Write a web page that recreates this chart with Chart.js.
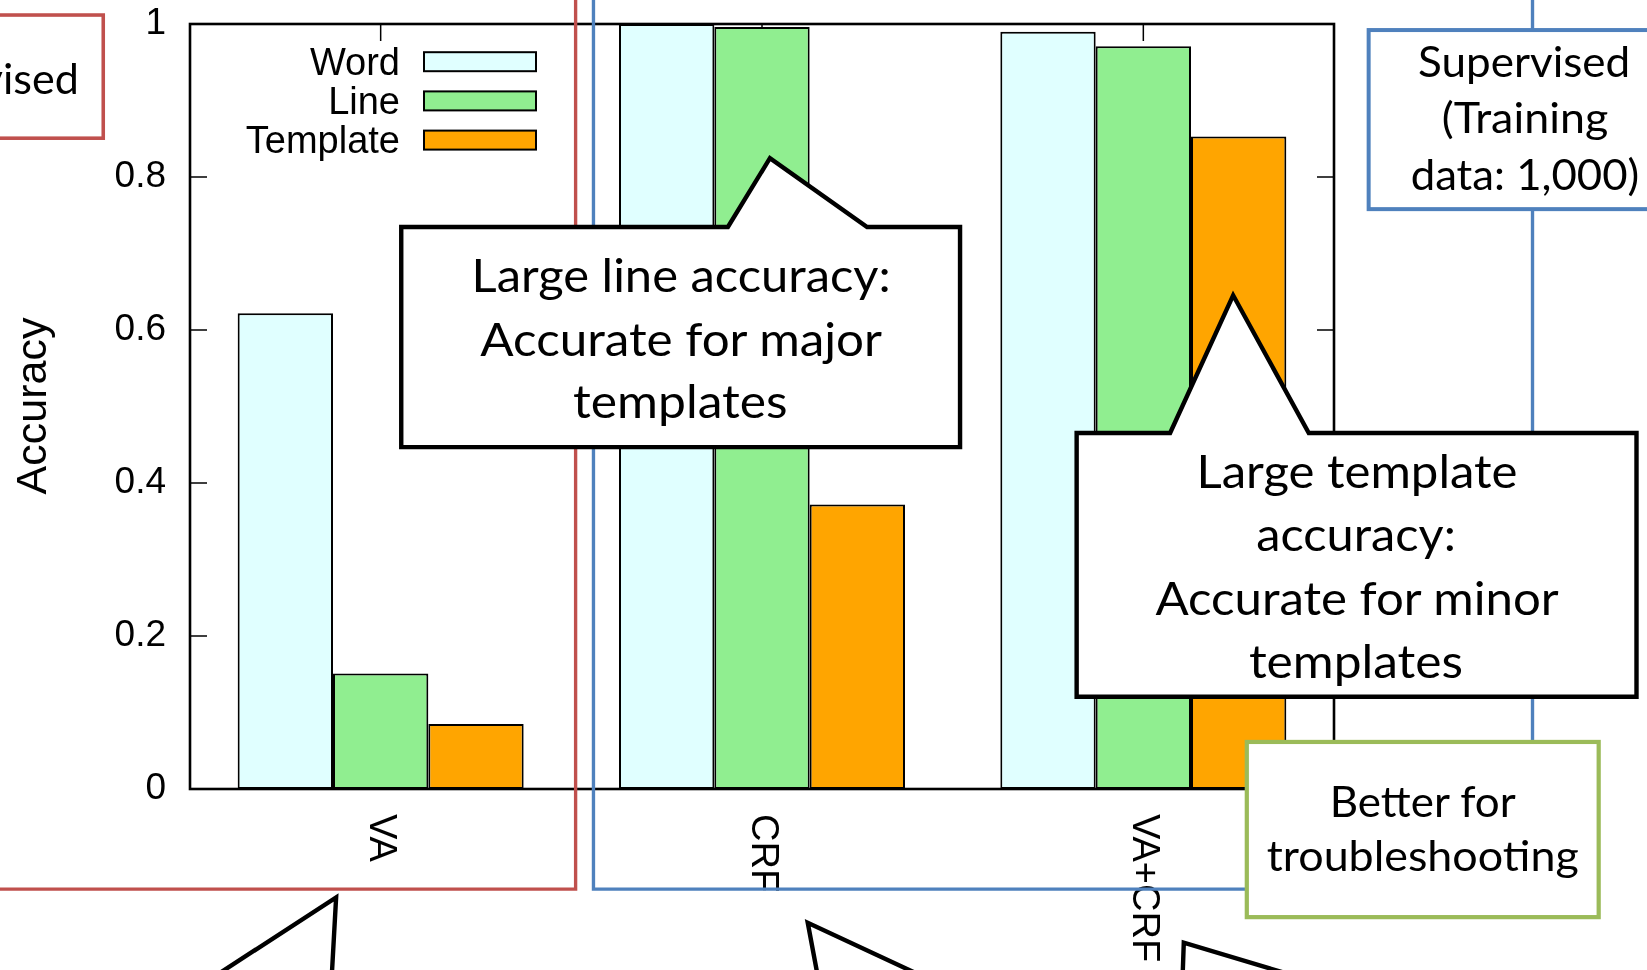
<!DOCTYPE html>
<html>
<head>
<meta charset="utf-8">
<script src="https://cdn.jsdelivr.net/npm/chart.js@4"></script>
<style>
  html, body { margin: 0; padding: 0; background: #fff; overflow: hidden; }
  #wrap { position: relative; width: 1647px; height: 970px; }
  #chart { position: absolute; left: 0; top: 0; }
  #notes { position: absolute; left: 0; top: 0; pointer-events: none; }
  #notes text { font-family: Lato, "Open Sans", sans-serif; fill: #000; }
</style>
</head>
<body>
<div id="wrap">
  <canvas id="chart" width="1647" height="970"></canvas>

  <!-- callouts and group boxes drawn over the chart -->
  <svg id="notes" width="1647" height="970" viewBox="0 0 1568 923" preserveAspectRatio="none">
    <g fill="none" stroke-width="3.2">
      <path d="M548,0 V846 H-5" stroke="#c0504d"/>
      <path d="M565,0 V846 H1459 V0" stroke="#4f81bd"/>
    </g>
    <rect x="-10" y="14.3" width="108.3" height="117.2" fill="#fff" stroke="#c0504d" stroke-width="3.4"/>
    <rect x="1303" y="28.6" width="300" height="170.4" fill="#fff" stroke="#4f81bd" stroke-width="3.8"/>
    <rect x="1187" y="706" width="335" height="166.7" fill="#fff" stroke="#9bbb59" stroke-width="4"/>

    <g fill="#fff" stroke="#000" stroke-width="4.2" stroke-linejoin="miter">
      <path d="M382,216 H693 L733,150.5 L825.5,216 H914 V425.5 H382 Z"/>
      <path d="M1025,412 H1114 L1174,281 L1246,412 H1558 V663 H1025 Z"/>
      <path d="M209,926 L320,854 L316,926"/>
      <path d="M778,926 L769,878 L872,926"/>
      <path d="M1126,926 L1127,897 L1224,926"/>
    </g>

    <text x="75" y="89" font-size="41" text-anchor="end">Unsupervised</text>

    <g font-size="41" text-anchor="middle">
      <text x="1451" y="73.6" textLength="202" lengthAdjust="spacingAndGlyphs">Supervised</text>
      <text x="1451.8" y="126.3" textLength="158.5" lengthAdjust="spacingAndGlyphs">(Training</text>
      <text x="1451.8" y="181" textLength="217.5" lengthAdjust="spacingAndGlyphs">data: 1,000)</text>
      <text x="1354.5" y="777" textLength="177" lengthAdjust="spacingAndGlyphs">Better for</text>
      <text x="1354.5" y="829" textLength="297" lengthAdjust="spacingAndGlyphs">troubleshooting</text>
    </g>

    <g font-size="44" text-anchor="middle">
      <text x="648.5" y="277.7" textLength="399" lengthAdjust="spacingAndGlyphs">Large line accuracy:</text>
      <text x="648.5" y="339" textLength="382.4" lengthAdjust="spacingAndGlyphs">Accurate for major</text>
      <text x="647.7" y="398" textLength="204.2" lengthAdjust="spacingAndGlyphs">templates</text>
      <text x="1291.9" y="464" textLength="305.7" lengthAdjust="spacingAndGlyphs">Large template</text>
      <text x="1291" y="524" textLength="190" lengthAdjust="spacingAndGlyphs">accuracy:</text>
      <text x="1292" y="585.5" textLength="384" lengthAdjust="spacingAndGlyphs">Accurate for minor</text>
      <text x="1290.9" y="645.6" textLength="203.8" lengthAdjust="spacingAndGlyphs">templates</text>
    </g>
  </svg>
</div>

<script>
// DATA
const categories = ["VA", "CRF", "VA+CRF"];
const seriesNames = ["Word", "Line", "Template"];
const wordAcc = [0.622, 1.0, 0.990];
const lineAcc = [0.151, 0.996, 0.971];
const templateAcc = [0.085, 0.372, 0.853];
const yTicks = [0, 0.2, 0.4, 0.6, 0.8, 1];

const seriesColors = ["#e0ffff", "#90ee90", "#ffa500"];
const axisFont = "Liberation Sans, Arial, sans-serif";

// gnuplot style frame, inner ticks, key and rotated labels
const gnuplotLook = {
    id: "gnuplotLook",

    beforeDatasetsDraw(chart) {
        const { ctx, chartArea: a, scales: { x, y } } = chart;
        ctx.save();
        ctx.strokeStyle = "#000";
        ctx.lineWidth = 1.5;
        ctx.beginPath();
        yTicks.forEach(v => {
            const py = y.getPixelForValue(v);
            ctx.moveTo(a.left, py);
            ctx.lineTo(a.left + 17, py);
            ctx.moveTo(a.right, py);
            ctx.lineTo(a.right - 17, py);
        });
        categories.forEach((c, i) => {
            const px = x.getPixelForTick(i);
            ctx.moveTo(px, a.top);
            ctx.lineTo(px, a.top + 17);
            ctx.moveTo(px, a.bottom);
            ctx.lineTo(px, a.bottom - 17);
        });
        ctx.stroke();
        ctx.restore();
    },

    afterDatasetsDraw(chart) {
        const { ctx, chartArea: a, scales: { x } } = chart;
        ctx.save();

        // FRAME
        ctx.strokeStyle = "#000";
        ctx.lineWidth = 2.6;
        ctx.strokeRect(a.left, a.top, a.right - a.left, a.bottom - a.top);

        // KEY
        ctx.font = "38px " + axisFont;
        ctx.textAlign = "right";
        ctx.textBaseline = "alphabetic";
        chart.data.datasets.forEach((ds, i) => {
            const cy = 61.7 + i * 39.2;
            ctx.fillStyle = "#000";
            ctx.fillText(ds.label, 400, cy + 13.3);
            ctx.fillStyle = ds.backgroundColor;
            ctx.fillRect(424, cy - 9.5, 112, 19);
            ctx.lineWidth = 2;
            ctx.strokeRect(424, cy - 9.5, 112, 19);
        });

        // X LABELS (rotated clockwise)
        ctx.fillStyle = "#000";
        ctx.font = "38px " + axisFont;
        ctx.textAlign = "left";
        ctx.textBaseline = "middle";
        chart.data.labels.forEach((lab, i) => {
            ctx.save();
            ctx.translate(x.getPixelForTick(i), 814);
            ctx.rotate(Math.PI / 2);
            ctx.fillText(lab, 0, 0);
            ctx.restore();
        });

        // Y TITLE
        ctx.font = "43px " + axisFont;
        ctx.textAlign = "center";
        ctx.textBaseline = "alphabetic";
        ctx.translate(46, 406);
        ctx.rotate(-Math.PI / 2);
        ctx.fillText("Accuracy", 0, 0);

        ctx.restore();
    }
};

const datasets = [wordAcc, lineAcc, templateAcc].map((vals, i) => ({
    label: seriesNames[i],
    data: vals,
    backgroundColor: seriesColors[i],
    borderColor: "#000",
    borderWidth: 2,
    borderSkipped: false,
    categoryPercentage: 0.75,
    barPercentage: 1.0
}));

new Chart(document.getElementById("chart"), {
    type: "bar",
    data: { labels: categories, datasets: datasets },
    plugins: [gnuplotLook],
    options: {
        responsive: false,
        devicePixelRatio: 1,
        animation: false,
        layout: { padding: { left: 0, top: 24, right: 313, bottom: 0 } },
        plugins: {
            legend: { display: false },
            tooltip: { enabled: false }
        },
        scales: {
            x: {
                grid: { display: false, drawTicks: false },
                border: { display: false },
                ticks: { display: false },
                afterFit: s => { s.height = 181; s.paddingLeft = 0; s.paddingRight = 0; }
            },
            y: {
                min: 0,
                max: 1,
                afterBuildTicks: s => { s.ticks = yTicks.map(v => ({ value: v })); },
                grid: { display: false, drawTicks: false },
                border: { display: false },
                ticks: {
                    padding: 24,
                    color: "#000",
                    font: { family: axisFont, size: 37 },
                    callback: v => String(Math.round(v * 10) / 10)
                },
                afterFit: s => { s.width = 190; s.paddingTop = 0; s.paddingBottom = 0; }
            }
        }
    }
});
</script>
</body>
</html>
